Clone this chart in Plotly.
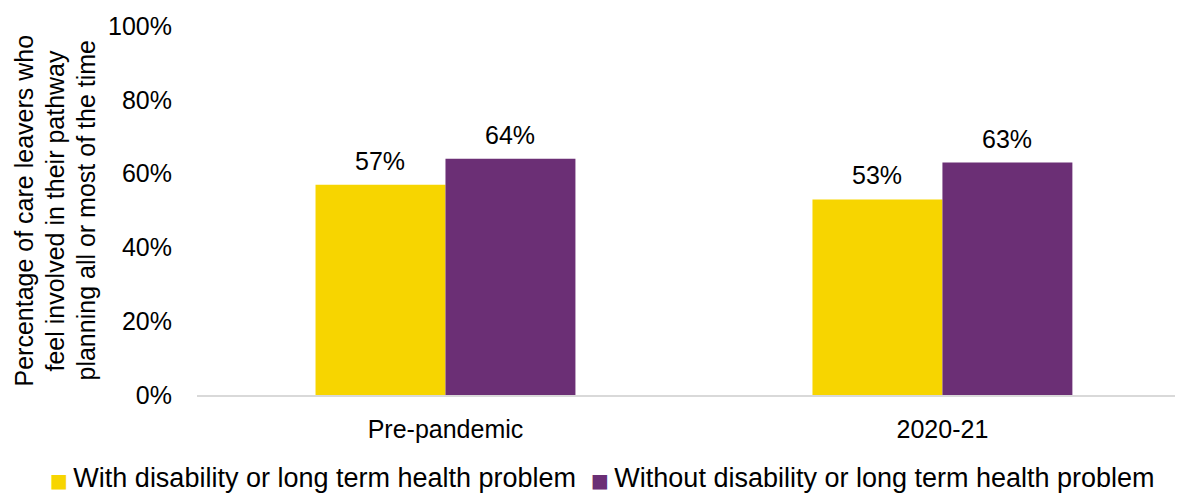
import plotly.graph_objects as go

periods = ["Pre-pandemic", "2020-21"]
with_disability = [0.57, 0.53]
without_disability = [0.64, 0.63]
series_names = [
    "With disability or long term health problem",
    "Without disability or long term health problem",
]
y_ticks = [0, 0.2, 0.4, 0.6, 0.8, 1.0]
y_tick_labels = ["0%", "20%", "40%", "60%", "80%", "100%"]
y_title_lines = [
    "Percentage of care leavers who",
    "feel involved in their pathway",
    "planning all or most of the time",
]

YELLOW = "#F7D500"
PURPLE = "#6B2F75"
COLORS = [YELLOW, PURPLE]
FONT = "Liberation Sans, Arial, sans-serif"
FS = 25

# plot-area geometry in pixels, used to place free-floating labels
L, T, B, W, H = 197, 26, 100, 1177, 495
PW, PH = W - L - 2, H - T - B


def px_x(px):
    return (px - L) / PW


def px_y(py):
    return (H - B - py) / PH


fig = go.Figure()
for vals, name, color in zip((with_disability, without_disability), series_names, COLORS):
    fig.add_trace(go.Bar(x=[0, 1], y=vals, name=name, showlegend=False,
                         marker=dict(color=color, line=dict(width=0))))

# value labels above each bar
for vals, shift in ((with_disability, -65), (without_disability, 65)):
    for i, v in enumerate(vals):
        fig.add_annotation(x=i, y=v, text=f"{round(v * 100)}%", showarrow=False,
                           xshift=shift, yshift=8, yanchor="bottom",
                           font=dict(size=FS, color="#000000"))

# y-axis title: three rotated lines
for line, px in zip(y_title_lines, (23, 54, 85)):
    fig.add_annotation(
        xref="paper", yref="paper", x=px_x(px), y=0.5,
        text=line, textangle=-90, showarrow=False,
        xanchor="center", yanchor="middle",
        font=dict(size=FS, color="#000000"),
    )

# legend row below the axis: colour square + series name
for name, color, px in zip(series_names, COLORS, (48, 589)):
    fig.add_annotation(
        xref="paper", yref="paper", x=px_x(px), y=px_y(478),
        text=(f"<span style='color:{color};font-family:DejaVu Sans;font-size:19px'>■</span>"
              f"\u2009{name}"),
        showarrow=False, xanchor="left", yanchor="middle",
        font=dict(size=27, color="#000000"),
    )

fig.update_layout(
    width=W, height=H,
    margin=dict(l=L, r=2, t=T, b=B, autoexpand=False),
    paper_bgcolor="white", plot_bgcolor="white",
    font=dict(family=FONT, size=FS, color="#000000"),
    barmode="group", bargap=0.477, bargroupgap=0,
    showlegend=False,
    xaxis=dict(range=[-0.5, 1.468], tickvals=[0, 1], ticktext=periods,
               showgrid=False, showline=True, linecolor="#D9D9D9", linewidth=2,
               zeroline=False, ticks="", ticklabelstandoff=11, automargin=False,
               tickfont=dict(size=FS)),
    yaxis=dict(range=[0, 1], tickvals=y_ticks, ticktext=y_tick_labels,
               showgrid=False, zeroline=False, showline=False, ticks="",
               ticklabelstandoff=24, automargin=False, tickfont=dict(size=FS)),
)

fig.write_html("out.html")
